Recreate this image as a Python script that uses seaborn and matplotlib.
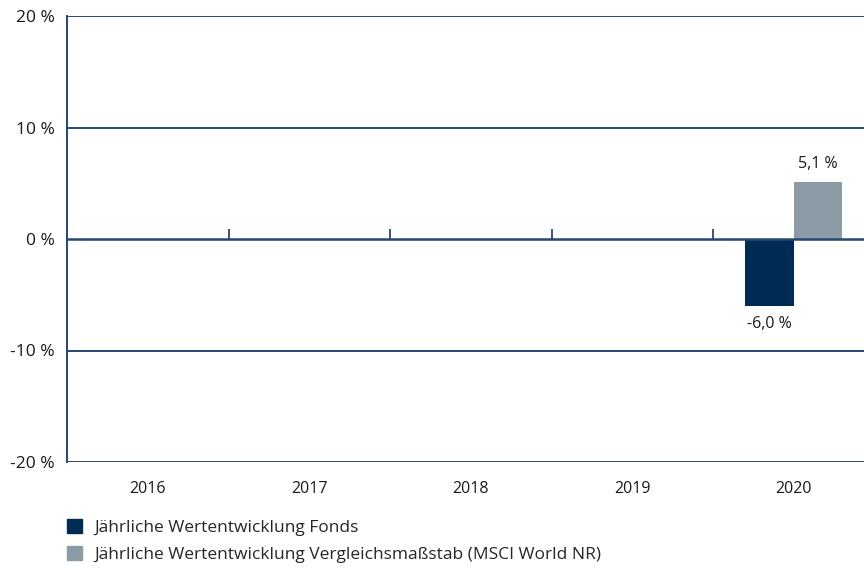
import pandas as pd
import seaborn as sns
import matplotlib.pyplot as plt
import numpy as np
from matplotlib.patches import Patch

years = ["2016", "2017", "2018", "2019", "2020"]
fonds = [np.nan, np.nan, np.nan, np.nan, -6.0]
benchmark = [np.nan, np.nan, np.nan, np.nan, 5.1]
series_names = ["Jährliche Wertentwicklung Fonds",
                "Jährliche Wertentwicklung Vergleichsmaßstab (MSCI World NR)"]
y_ticks = [-20, -10, 0, 10, 20]

navy = "#002b54"
grey = "#8c9ca7"
line_col = "#264872"

df = pd.DataFrame({
    "Jahr": years * 2,
    "Wert": fonds + benchmark,
    "Serie": [series_names[0]] * len(years) + [series_names[1]] * len(years),
})

sns.set_style("white")
plt.rcParams["font.family"] = ["Open Sans", "DejaVu Sans"]

fig = plt.figure(figsize=(8.64, 5.68), dpi=100)
# right edge runs past the figure like in the original
ax = fig.add_axes([67 / 864, 1 - 462 / 568, 807.5 / 864, 446 / 568])

sns.barplot(data=df, x="Jahr", y="Wert", hue="Serie", order=years,
            hue_order=series_names, palette=[navy, grey], width=0.6,
            saturation=1, legend=False, linewidth=0, zorder=1, ax=ax)

ax.set_ylim(-20, 20)
ax.set_xlim(-0.5, len(years) - 0.5)
ax.set_yticks(y_ticks)
ax.set_yticklabels([f"{t} %" for t in y_ticks], fontsize=12.5, color="#1a1a1a")
ax.tick_params(axis="y", length=0, pad=9)
ax.tick_params(axis="x", length=0, labelsize=11.5, labelcolor="#1a1a1a", pad=14)
ax.set_xlabel("")
ax.set_ylabel("")

for t in y_ticks:
    ax.axhline(t, color=line_col, lw=1.4 if t else 1.8, zorder=2)

# small separators on the zero line between years
ax.vlines(np.arange(len(years) - 1) + 0.5, 0, 0.9, color=line_col, lw=1.3, zorder=2)

for side in ["top", "right", "bottom"]:
    ax.spines[side].set_visible(False)
ax.spines["left"].set_color(line_col)
ax.spines["left"].set_linewidth(1.4)

for cont in ax.containers:
    labels = ["" if np.isnan(v) else f"{v:.1f} %".replace(".", ",")
              for v in cont.datavalues]
    ax.bar_label(cont, labels=labels, padding=7, fontsize=11.5, color="#1a1a1a")

handles = [Patch(color=navy), Patch(color=grey)]
fig.legend(handles, series_names, loc="upper left",
           bbox_to_anchor=(60 / 864, 1 - 512 / 568), frameon=False,
           fontsize=12.5, handlelength=0.85, handleheight=0.85,
           handletextpad=0.75, labelspacing=0.6, borderaxespad=0)

fig.savefig("out.png", dpi=100)
